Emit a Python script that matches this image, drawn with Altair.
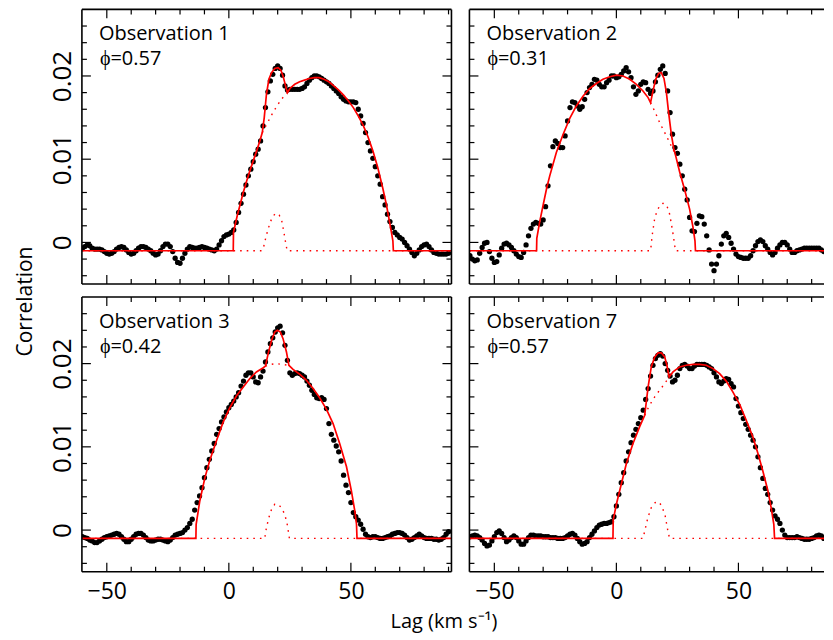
import altair as alt
import pandas as pd

# ---------------- data ----------------
LAGS = list(range(-60, 91))  # lag grid, km/s

OBS1 = [
    -0.0007, -0.0005, -0.0003, -0.0004, -0.0007, -0.0008, -0.0008, -0.0008, -0.0009, -0.0011,
    -0.0013, -0.0014, -0.0013, -0.0011, -0.0008, -0.0006, -0.0005, -0.0006, -0.0009, -0.0012,
    -0.0014, -0.0013, -0.0010, -0.0007, -0.0005, -0.0005, -0.0006, -0.0008, -0.0010, -0.0013,
    -0.0015, -0.0014, -0.0010, -0.0005, -0.0002, -0.0002, -0.0005, -0.0011, -0.0019, -0.0024,
    -0.0025, -0.0019, -0.0013, -0.0008, -0.0005, -0.0006, -0.0007, -0.0007, -0.0006, -0.0005,
    -0.0006, -0.0007, -0.0008, -0.0009, -0.0010, -0.0008, -0.0003, 0.0002, 0.0007, 0.0009,
    0.0010, 0.0012, 0.0015, 0.0024, 0.0036, 0.0047, 0.0058, 0.0069, 0.0080, 0.0088,
    0.0097, 0.0106, 0.0112, 0.0122, 0.0140, 0.0162, 0.0181, 0.0194, 0.0202, 0.0209,
    0.0212, 0.0209, 0.0201, 0.0188, 0.0183, 0.0184, 0.0184, 0.0184, 0.0184, 0.0184,
    0.0185, 0.0187, 0.0191, 0.0195, 0.0198, 0.0200, 0.0200, 0.0199, 0.0197, 0.0195,
    0.0193, 0.0191, 0.0188, 0.0185, 0.0182, 0.0179, 0.0175, 0.0172, 0.0170, 0.0169,
    0.0169, 0.0169, 0.0168, 0.0160, 0.0152, 0.0143, 0.0132, 0.0120, 0.0110, 0.0101,
    0.0091, 0.0080, 0.0070, 0.0055, 0.0045, 0.0034, 0.0025, 0.0018, 0.0012, 0.0009,
    0.0006, 0.0004, 0.0000, -0.0004, -0.0008, -0.0012, -0.0016, -0.0013, -0.0009, -0.0005,
    -0.0003, -0.0002, -0.0005, -0.0009, -0.0012, -0.0013, -0.0014, -0.0014, -0.0014, -0.0014, -0.0013,
]

OBS2 = [
    -0.0016, -0.0020, -0.0022, -0.0021, -0.0013, -0.0006, -0.0001, 0.0000, -0.0011, -0.0019,
    -0.0024, -0.0023, -0.0015, -0.0007, -0.0002, -0.0001, -0.0003, -0.0006, -0.0010, -0.0014,
    -0.0017, -0.0018, -0.0012, -0.0003, 0.0008, 0.0017, 0.0022, 0.0024, 0.0023, 0.0022,
    0.0027, 0.0043, 0.0068, 0.0092, 0.0115, 0.0122, 0.0119, 0.0114, 0.0114, 0.0128,
    0.0146, 0.0162, 0.0169, 0.0168, 0.0164, 0.0160, 0.0163, 0.0172, 0.0180, 0.0186,
    0.0190, 0.0196, 0.0195, 0.0190, 0.0187, 0.0187, 0.0192, 0.0195, 0.0200, 0.0200,
    0.0198, 0.0199, 0.0202, 0.0206, 0.0210, 0.0205, 0.0198, 0.0187, 0.0178, 0.0182,
    0.0190, 0.0193, 0.0192, 0.0184, 0.0179, 0.0182, 0.0193, 0.0201, 0.0208, 0.0212,
    0.0203, 0.0182, 0.0156, 0.0130, 0.0114, 0.0107, 0.0094, 0.0080, 0.0064, 0.0051,
    0.0030, 0.0014, 0.0013, 0.0023, 0.0032, 0.0031, 0.0022, 0.0008, -0.0009, -0.0026,
    -0.0034, -0.0026, -0.0016, -0.0002, 0.0008, 0.0011, 0.0006, -0.0001, -0.0008, -0.0014,
    -0.0017, -0.0018, -0.0019, -0.0019, -0.0019, -0.0016, -0.0010, -0.0004, 0.0001, 0.0003,
    0.0001, -0.0004, -0.0008, -0.0012, -0.0015, -0.0012, -0.0007, -0.0003, 0.0000, 0.0000,
    -0.0003, -0.0008, -0.0012, -0.0012, -0.0010, -0.0009, -0.0008, -0.0007, -0.0007, -0.0007,
    -0.0007, -0.0007, -0.0007, -0.0007, -0.0009, -0.0011, -0.0013, -0.0010, -0.0005, -0.0002, -0.0003,
]

OBS3 = [
    -0.0008, -0.0009, -0.0010, -0.0012, -0.0013, -0.0015, -0.0015, -0.0013, -0.0011, -0.0009,
    -0.0008, -0.0007, -0.0006, -0.0005, -0.0004, -0.0005, -0.0008, -0.0011, -0.0014, -0.0014,
    -0.0011, -0.0008, -0.0005, -0.0004, -0.0004, -0.0006, -0.0009, -0.0012, -0.0013, -0.0013,
    -0.0012, -0.0011, -0.0011, -0.0012, -0.0013, -0.0014, -0.0012, -0.0009, -0.0006, -0.0005,
    -0.0004, -0.0003, 0.0000, 0.0003, 0.0008, 0.0013, 0.0024, 0.0033, 0.0041, 0.0051,
    0.0063, 0.0075, 0.0085, 0.0095, 0.0104, 0.0115, 0.0122, 0.0130, 0.0136, 0.0142,
    0.0147, 0.0151, 0.0155, 0.0160, 0.0165, 0.0173, 0.0179, 0.0186, 0.0189, 0.0189,
    0.0184, 0.0178, 0.0177, 0.0184, 0.0191, 0.0202, 0.0214, 0.0224, 0.0231, 0.0238,
    0.0243, 0.0245, 0.0237, 0.0222, 0.0204, 0.0189, 0.0186, 0.0188, 0.0189, 0.0188,
    0.0186, 0.0184, 0.0179, 0.0174, 0.0168, 0.0163, 0.0159, 0.0158, 0.0159, 0.0157,
    0.0146, 0.0128, 0.0115, 0.0108, 0.0101, 0.0094, 0.0083, 0.0066, 0.0054, 0.0045,
    0.0033, 0.0021, 0.0016, 0.0012, 0.0007, 0.0001, -0.0005, -0.0008, -0.0009, -0.0008,
    -0.0008, -0.0009, -0.0010, -0.0010, -0.0009, -0.0008, -0.0007, -0.0005, -0.0004, -0.0003,
    -0.0003, -0.0004, -0.0006, -0.0009, -0.0012, -0.0011, -0.0009, -0.0007, -0.0005, -0.0007,
    -0.0009, -0.0010, -0.0010, -0.0010, -0.0011, -0.0011, -0.0012, -0.0011, -0.0009, -0.0005, -0.0002,
]

OBS7 = [
    -0.0008, -0.0007, -0.0006, -0.0007, -0.0009, -0.0012, -0.0016, -0.0019, -0.0018, -0.0013,
    -0.0008, -0.0003, -0.0001, -0.0004, -0.0009, -0.0014, -0.0012, -0.0009, -0.0007, -0.0009,
    -0.0013, -0.0017, -0.0017, -0.0013, -0.0009, -0.0006, -0.0006, -0.0007, -0.0007, -0.0007,
    -0.0008, -0.0008, -0.0008, -0.0009, -0.0009, -0.0009, -0.0010, -0.0010, -0.0010, -0.0009,
    -0.0007, -0.0005, -0.0004, -0.0006, -0.0010, -0.0014, -0.0017, -0.0016, -0.0014, -0.0009,
    -0.0005, -0.0001, 0.0003, 0.0006, 0.0007, 0.0008, 0.0008, 0.0009, 0.0010, 0.0016,
    0.0029, 0.0043, 0.0057, 0.0069, 0.0083, 0.0094, 0.0105, 0.0114, 0.0121, 0.0128,
    0.0135, 0.0144, 0.0157, 0.0170, 0.0185, 0.0198, 0.0206, 0.0210, 0.0212, 0.0209,
    0.0200, 0.0192, 0.0185, 0.0178, 0.0180, 0.0186, 0.0194, 0.0198, 0.0199, 0.0197,
    0.0194, 0.0194, 0.0197, 0.0199, 0.0199, 0.0199, 0.0199, 0.0198, 0.0196, 0.0194,
    0.0189, 0.0184, 0.0178, 0.0176, 0.0179, 0.0182, 0.0181, 0.0176, 0.0172, 0.0158,
    0.0149, 0.0141, 0.0134, 0.0127, 0.0121, 0.0114, 0.0108, 0.0100, 0.0088, 0.0075,
    0.0062, 0.0050, 0.0043, 0.0033, 0.0024, 0.0017, 0.0013, 0.0008, 0.0000, -0.0006,
    -0.0009, -0.0009, -0.0009, -0.0009, -0.0008, -0.0009, -0.0010, -0.0011, -0.0011, -0.0011,
    -0.0010, -0.0009, -0.0007, -0.0006, -0.0007, -0.0010, -0.0012, -0.0013, -0.0014, -0.0012, -0.0010,
]

# model fits: [lag, correlation]
FIT1 = [[-60.2, -0.001], [1.8, -0.001], [1.9, 0.0012], [2.5, 0.0020], [3.5, 0.0033], [4.5, 0.0044],
        [5.9, 0.0060], [7.2, 0.0073], [8.6, 0.0086], [10, 0.0098], [11.4, 0.0110], [12.6, 0.0121],
        [13.7, 0.0132], [14.5, 0.0150], [15.4, 0.0178], [16.4, 0.0196], [17.5, 0.0204], [18.8, 0.0209],
        [20.2, 0.0210], [21.3, 0.0207], [22.2, 0.0200], [22.9, 0.0192], [23.6, 0.0184], [24.0, 0.0180],
        [25, 0.0185], [27, 0.0190], [29, 0.0193], [31, 0.0195], [33, 0.0197], [35, 0.0198], [37, 0.0198],
        [39, 0.0196], [41, 0.0193], [43, 0.0188], [45, 0.0183], [47, 0.0177], [49, 0.0170], [51, 0.0162],
        [53, 0.0152], [55, 0.0141], [57, 0.0127], [59, 0.0110], [61, 0.0090], [63, 0.0066], [64.5, 0.0046],
        [65.5, 0.0030], [66.5, 0.0014], [67.2, 0.0002], [67.4, -0.001], [91.2, -0.001]]
BROAD1 = [[13.7, 0.0132], [15.5, 0.0142], [17.5, 0.0153], [19.5, 0.0163], [21.5, 0.0172], [24.0, 0.0180]]
NARROW1 = [[-60.2, -0.001], [13.5, -0.001], [14.2, -0.0006], [15.4, 0.0009], [16.8, 0.0023], [17.9, 0.0031],
           [19.2, 0.0035], [20.6, 0.0033], [21.6, 0.0027], [22.5, 0.0013], [23.3, -0.0001], [23.9, -0.001],
           [91.2, -0.001]]

FIT2 = [[-60.2, -0.001], [-32.7, -0.001], [-32.6, 0.0005], [-31.4, 0.0025], [-30, 0.0045], [-28.5, 0.0066],
        [-27.3, 0.0080], [-24.6, 0.0108], [-21.8, 0.0130], [-19.1, 0.0149], [-16.4, 0.0164], [-13.6, 0.0176],
        [-10.9, 0.0185], [-8.2, 0.0191], [-5.5, 0.0196], [-2.7, 0.0199], [0, 0.0201], [2.7, 0.0200],
        [5.5, 0.0196], [8.2, 0.0190], [10.9, 0.0182], [13, 0.0174], [14, 0.0168], [15, 0.0182],
        [16.1, 0.0196], [17.3, 0.0203], [18.4, 0.0204], [19.5, 0.0197], [20.5, 0.0180], [21.4, 0.0156],
        [22.5, 0.0130], [23.5, 0.0113], [24.3, 0.0104], [25.9, 0.0085], [28, 0.0063], [30, 0.0040],
        [31.4, 0.0018], [32.2, 0.0002], [32.4, -0.001], [85.06, -0.001]]
BROAD2 = [[14, 0.0168], [15, 0.0162], [16.4, 0.0153], [17.7, 0.0144], [19.1, 0.0136], [20.5, 0.0128],
          [21.8, 0.0120], [23.5, 0.0110], [24.3, 0.0104]]
NARROW2 = [[-60.2, -0.001], [14, -0.001], [14.7, 0.0009], [15.7, 0.0029], [16.8, 0.0039], [18, 0.0045],
           [19.1, 0.0047], [20.5, 0.0045], [21.6, 0.0037], [22.5, 0.0023], [23.5, 0.0005], [24.2, -0.001],
           [85.06, -0.001]]

FIT3 = [[-60.2, -0.001], [-13.5, -0.001], [-13.4, 0.0007], [-11.9, 0.0035], [-9.8, 0.0063], [-7.8, 0.0084],
        [-5.0, 0.0108], [-2.3, 0.0130], [0.4, 0.0147], [3.1, 0.0161], [5.9, 0.0172], [8.6, 0.0182],
        [11.3, 0.0190], [14.1, 0.0195], [15, 0.0197], [16.1, 0.0212], [17.5, 0.0228], [18.8, 0.0238],
        [19.9, 0.0240], [21.1, 0.0238], [22.2, 0.0230], [23.6, 0.0214], [24.6, 0.0198], [26.3, 0.0193],
        [29.1, 0.0187], [31.8, 0.0180], [34.5, 0.0170], [37.2, 0.0159], [40, 0.0145], [42.7, 0.0128],
        [45.4, 0.0104], [48.2, 0.0076], [50.2, 0.0047], [51.6, 0.0023], [52.3, 0.0007], [52.5, -0.001],
        [91.2, -0.001]]
BROAD3 = [[15, 0.0197], [17, 0.0199], [19.5, 0.0200], [22, 0.0199], [24.6, 0.0198]]
NARROW3 = [[-60.2, -0.001], [14.7, -0.001], [15.4, 0.0003], [16.4, 0.0015], [17.5, 0.0025], [18.8, 0.0031],
           [20.2, 0.0031], [21.5, 0.0027], [22.9, 0.0019], [23.9, 0.0007], [24.8, -0.001], [91.2, -0.001]]

FIT7 = [[-60.2, -0.001], [-1.4, -0.001], [-1.3, 0.0012], [0, 0.0031], [2.0, 0.0055], [4.1, 0.0080],
        [6.8, 0.0104], [9.5, 0.0124], [11.6, 0.0138], [13.0, 0.0172], [14.3, 0.0196], [15.7, 0.0208],
        [17.1, 0.0213], [18.4, 0.0213], [19.8, 0.0208], [20.7, 0.0198], [21.6, 0.0184], [23.2, 0.0190],
        [25.9, 0.0196], [28.6, 0.0198], [31.4, 0.0199], [34.1, 0.0199], [36.8, 0.0198], [39.6, 0.0194],
        [42.3, 0.0188], [45, 0.0179], [47.7, 0.0166], [50.5, 0.0151], [53.2, 0.0132], [55.9, 0.0112],
        [58, 0.0092], [60, 0.0071], [62.1, 0.0047], [63.4, 0.0027], [64.5, 0.0007], [64.8, -0.001],
        [85.06, -0.001]]
BROAD7 = [[11.6, 0.0138], [13.6, 0.0150], [15.7, 0.0160], [17.7, 0.0168], [19.8, 0.0176], [21.6, 0.0184]]
NARROW7 = [[-60.2, -0.001], [10.9, -0.001], [11.8, 0.0001], [12.9, 0.0015], [14.3, 0.0027], [15.9, 0.0033],
           [17.3, 0.0034], [18.6, 0.0029], [20.0, 0.0017], [21.1, -0.0001], [21.8, -0.001], [85.06, -0.001]]

TITLES = ["Observation 1", "Observation 2", "Observation 3", "Observation 7"]
PHASES = ["\u03d5=0.57", "\u03d5=0.31", "\u03d5=0.42", "\u03d5=0.57"]

X_TICKS = [-50, -40, -30, -20, -10, 0, 10, 20, 30, 40, 50, 60, 70, 80, 90]
X_MAJOR = [-50, 0, 50]
Y_TICKS = [-0.004, -0.002, 0.0, 0.002, 0.004, 0.006, 0.008, 0.010, 0.012, 0.014,
           0.016, 0.018, 0.020, 0.022, 0.024, 0.026]
Y_MAJOR = [0.0, 0.01, 0.02]
X_DOMAIN_LEFT = [-60.2, 91.2]    # left column (full frame visible)
X_DOMAIN_RIGHT = [-60.2, 85.06]  # right column runs to the page edge
Y_DOMAIN = [-0.005, 0.028]

X_TITLE = "Lag (km s\u207b\u00b9)"
Y_TITLE = "Correlation"

# ---------------- styling ----------------
H = 275
W_LEFT, W_RIGHT = 370, 355
MAJ, MIN = 9, 5
FONT = "Open Sans"
FRAME = 1.6
PAD = {"left": 7, "top": 0, "right": 0, "bottom": 3}


def pairs_df(pairs):
    return pd.DataFrame({"x": [p[0] for p in pairs], "y": [p[1] for p in pairs],
                         "i": list(range(len(pairs)))})


def panel(k, corr, fit, broad, narrow, right_col, bottom_row):
    W = W_RIGHT if right_col else W_LEFT
    xdom = X_DOMAIN_RIGHT if right_col else X_DOMAIN_LEFT
    xscale = alt.Scale(domain=xdom, nice=False, zero=False)
    yscale = alt.Scale(domain=Y_DOMAIN, nice=False, zero=False)
    show_x = bottom_row
    show_y = not right_col
    if show_x:
        xa = dict(values=X_MAJOR, ticks=False, tickSize=0, domain=False, grid=False,
                  labelFont=FONT, labelFontSize=23, labelColor="black",
                  labelBaseline="alphabetic", labelAlign="center", labelPadding=27,
                  labelOverlap=False, labelFlush=False)
        if not right_col:
            xa.update(title=X_TITLE, titleFont=FONT, titleFontSize=20, titleFontWeight="normal",
                      titleColor="black", titleX=362, titleY=56, titleAlign="center",
                      titleBaseline="alphabetic", titleAngle=0)
        else:
            xa.update(title=None)
        xaxis = alt.Axis(**xa)
    else:
        xaxis = None
    if show_y:
        ya = dict(values=Y_MAJOR, ticks=False, tickSize=0, domain=False, grid=False,
                  labelFont=FONT, labelFontSize=26, labelColor="black", labelAngle=270,
                  labelBaseline="alphabetic", labelAlign="center", labelPadding=11,
                  labelOverlap=False, labelFlush=False, format="~g")
        if not bottom_row:
            ya.update(title=Y_TITLE, titleFont=FONT, titleFontSize=21, titleFontWeight="normal",
                      titleColor="black", titleX=-50, titleY=292, titleAlign="center",
                      titleBaseline="alphabetic", titleAngle=270)
        else:
            ya.update(title=None)
        yaxis = alt.Axis(**ya)
    else:
        yaxis = None

    def X():
        return alt.X("x:Q", scale=xscale, axis=xaxis)

    def Y():
        return alt.Y("y:Q", scale=yscale, axis=yaxis)

    keep = [(l, c) for l, c in zip(LAGS, corr) if xdom[0] <= l <= xdom[1]]
    pts = alt.Chart(pd.DataFrame({"x": [a for a, _ in keep], "y": [b for _, b in keep]})).mark_circle(
        size=28, color="black", opacity=1, clip=True).encode(x=X(), y=Y())
    nar = alt.Chart(pairs_df(narrow)).mark_line(
        color="#ff0000", strokeWidth=1.4, strokeDash=[1.6, 5], clip=True).encode(
        x=X(), y=Y(), order=alt.Order("i:Q"))
    brd = alt.Chart(pairs_df(broad)).mark_line(
        color="#ff0000", strokeWidth=1.4, strokeDash=[1.6, 5], clip=True).encode(
        x=X(), y=Y(), order=alt.Order("i:Q"))
    fitl = alt.Chart(pairs_df(fit)).mark_line(
        color="#ff0000", strokeWidth=1.7, clip=True).encode(
        x=X(), y=Y(), order=alt.Order("i:Q"))

    xt_all = [v for v in X_TICKS if xdom[0] < v < xdom[1]]
    x_major = [v for v in xt_all if v in X_MAJOR]
    x_minor = [v for v in xt_all if v not in X_MAJOR]
    y_minor = [v for v in Y_TICKS if v not in Y_MAJOR]

    def xt(vals, y1, y2):
        return alt.Chart(pd.DataFrame({"x": vals})).mark_rule(color="black", strokeWidth=1.2).encode(
            x=X(), y=alt.value(y1), y2=alt.value(y2))

    def yt(vals, x1, x2):
        return alt.Chart(pd.DataFrame({"y": vals})).mark_rule(color="black", strokeWidth=1.2).encode(
            y=Y(), x=alt.value(x1), x2=alt.value(x2))

    ticks = [
        xt(x_major, H, H - MAJ), xt(x_minor, H, H - MIN),
        xt(x_major, 0, MAJ), xt(x_minor, 0, MIN),
        yt(Y_MAJOR, 0, MAJ), yt(y_minor, 0, MIN),
    ]
    if not right_col:
        ticks += [yt(Y_MAJOR, W, W - MAJ), yt(y_minor, W, W - MIN)]

    one = pd.DataFrame({"a": [0]})

    def frame_h(yv):
        return alt.Chart(one).mark_rule(color="black", strokeWidth=FRAME).encode(
            x=alt.value(0), x2=alt.value(W), y=alt.value(yv))

    def frame_v(xv):
        return alt.Chart(one).mark_rule(color="black", strokeWidth=FRAME).encode(
            y=alt.value(0), y2=alt.value(H), x=alt.value(xv))

    frame = [frame_h(0), frame_h(H), frame_v(0)]
    if not right_col:
        frame.append(frame_v(W))

    title_txt = alt.Chart(pd.DataFrame({"t": [TITLES[k]]})).mark_text(
        align="left", baseline="alphabetic", font=FONT, fontSize=20, color="black").encode(
        text="t:N", x=alt.value(17), y=alt.value(31))
    phase_txt = alt.Chart(pd.DataFrame({"t": [PHASES[k]]})).mark_text(
        align="left", baseline="alphabetic", font=FONT, fontSize=20, color="black").encode(
        text="t:N", x=alt.value(18), y=alt.value(56))

    return alt.layer(pts, nar, brd, fitl, *ticks, *frame, title_txt, phase_txt).properties(
        width=W, height=H)


p1 = panel(0, OBS1, FIT1, BROAD1, NARROW1, right_col=False, bottom_row=False)
p2 = panel(1, OBS2, FIT2, BROAD2, NARROW2, right_col=True, bottom_row=False)
p3 = panel(2, OBS3, FIT3, BROAD3, NARROW3, right_col=False, bottom_row=True)
p4 = panel(3, OBS7, FIT7, BROAD7, NARROW7, right_col=True, bottom_row=True)

chart = alt.concat(
    p1, p2, p3, p4, columns=2,
    spacing=alt.RowColnumber(row=13, column=18),
    bounds="flush",
    padding=PAD,
).properties(
    background="white",
).configure(padding=PAD).configure_view(stroke=None)

chart.save("out.html", embed_options={"renderer": "svg", "actions": False})
